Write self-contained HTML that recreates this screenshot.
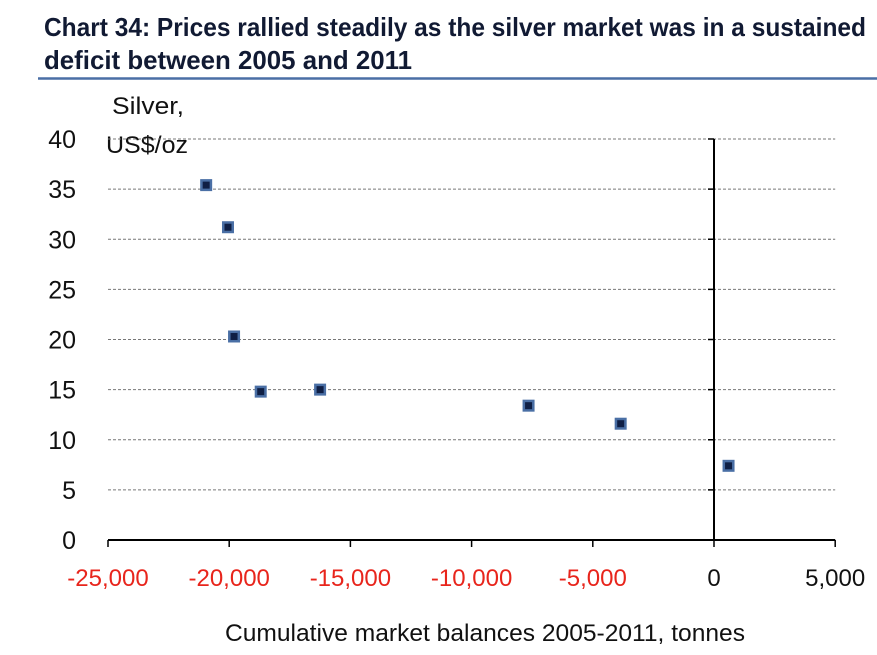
<!DOCTYPE html>
<html><head><meta charset="utf-8"><style>
body{margin:0;background:#fff;}
svg{display:block;font-family:"Liberation Sans",Arial,sans-serif;}
</style></head><body>
<svg id="chart" width="877" height="655">
<text x="44" y="36" font-family="Liberation Sans Narrow, Liberation Sans, sans-serif" font-weight="bold" font-size="26" fill="#111a33" textLength="822" lengthAdjust="spacingAndGlyphs">Chart 34: Prices rallied steadily as the silver market was in a sustained</text>
<text x="44" y="69" font-family="Liberation Sans Narrow, Liberation Sans, sans-serif" font-weight="bold" font-size="26" fill="#111a33" textLength="368" lengthAdjust="spacingAndGlyphs">deficit between 2005 and 2011</text>
<line x1="38" y1="78.5" x2="877" y2="78.5" stroke="#4a6fa5" stroke-width="2.5"/>
<text x="112" y="114" font-size="24" fill="#111" textLength="72" lengthAdjust="spacingAndGlyphs">Silver,</text>
<text x="106" y="153" font-size="24" fill="#111" textLength="82" lengthAdjust="spacingAndGlyphs">US$/oz</text>
<text x="485" y="641" font-size="24" fill="#111" text-anchor="middle" textLength="520" lengthAdjust="spacingAndGlyphs">Cumulative market balances 2005-2011, tonnes</text>
<g id="grid"></g><g id="axes"></g><g id="points"></g>
</svg>
<script>
const yTicks=[0,5,10,15,20,25,30,35,40];
const xTicks=[-25000,-20000,-15000,-10000,-5000,0,5000];
const xTickLabels=["-25,000","-20,000","-15,000","-10,000","-5,000","0","5,000"];
const balances=[-20950,-20050,-19800,-18700,-16250,-7650,-3850,600];
const prices=[35.4,31.2,20.3,14.8,15.0,13.4,11.6,7.4];
const NS="http://www.w3.org/2000/svg";
const X=v=>714+(v)*(121.2/5000);
const Y=v=>540-v*(401/40);
function mk(t,a,p){const e=document.createElementNS(NS,t);for(const k in a)e.setAttribute(k,a[k]);p.appendChild(e);return e;}
const grid=document.getElementById('grid'),axes=document.getElementById('axes'),pts=document.getElementById('points');
yTicks.forEach(v=>{
  if(v>0){const l=mk('line',{x1:X(-25000),x2:X(5000),y1:Y(v),y2:Y(v),stroke:'#777','stroke-width':1,'stroke-dasharray':'3,2'},grid);
  
  }
  const tk=mk('line',{x1:X(0)-6,x2:X(0),y1:Y(v),y2:Y(v),stroke:'#000','stroke-width':1.5},axes);
  
  
  const t=mk('text',{x:76,y:Y(v)+9,'font-size':25,fill:'#111','text-anchor':'end'},axes);
  t.textContent=v;
  
  
});
const xa=mk('line',{x1:X(-25000),x2:X(5000),y1:Y(0),y2:Y(0),stroke:'#000','stroke-width':2},axes);


const ya=mk('line',{x1:X(0),x2:X(0),y1:Y(40),y2:Y(0),stroke:'#000','stroke-width':2},axes);


xTicks.forEach((v,i)=>{
  const tk=mk('line',{x1:X(v),x2:X(v),y1:Y(0),y2:Y(0)+7,stroke:'#000','stroke-width':1.5},axes);
  
  
  const t=mk('text',{x:X(v),y:586,'font-size':24,fill:v<0?'#e8251c':'#111','text-anchor':'middle'},axes);
  t.textContent=xTickLabels[i];
  
  
});
balances.forEach((b,i)=>{
  const g=mk('g',{},pts);
  
  
  mk('rect',{x:X(b)-6,y:Y(prices[i])-6,width:12,height:12,fill:'#4a6fa5'},g);
  mk('rect',{x:X(b)-3.5,y:Y(prices[i])-3.5,width:7,height:7,fill:'#0f1f45'},g);
});
</script>
</body></html>
